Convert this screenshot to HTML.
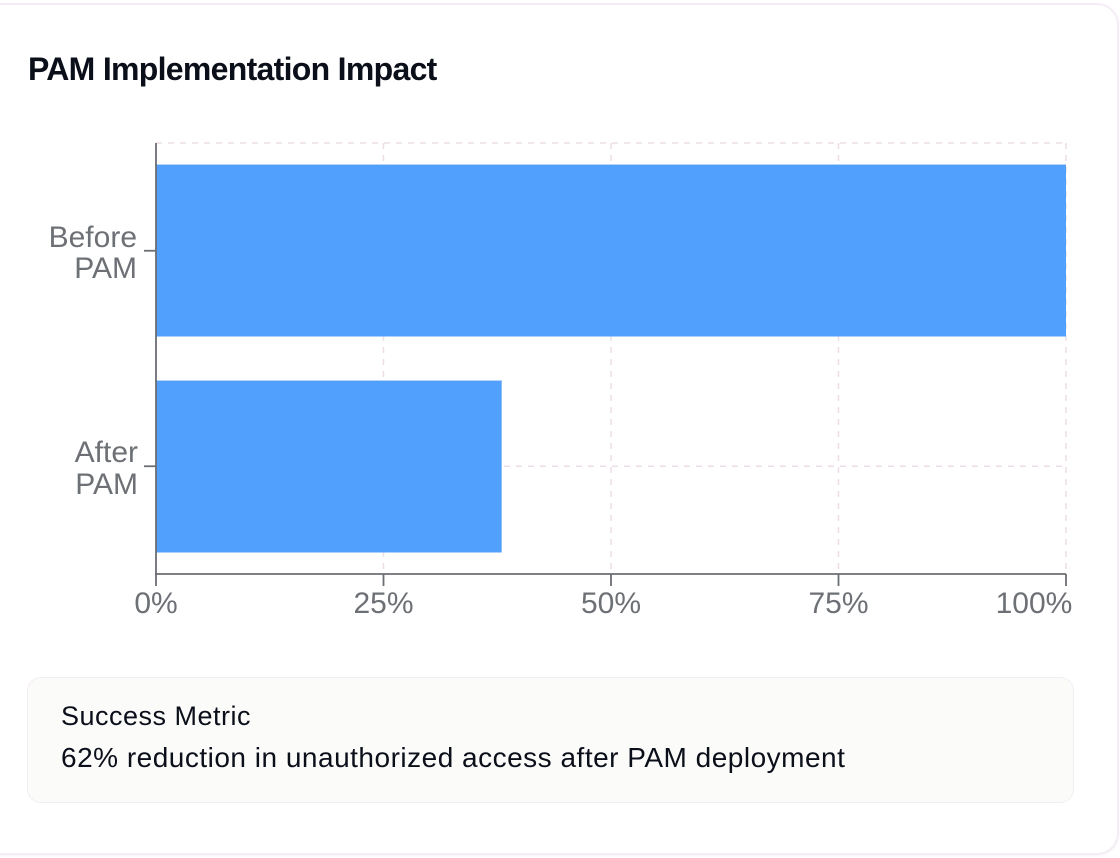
<!DOCTYPE html>
<html>
<head>
<meta charset="utf-8">
<style>
  html, body { margin: 0; padding: 0; background: #ffffff; }
  body { width: 1120px; height: 858px; position: relative; overflow: hidden; font-family: "Liberation Sans", sans-serif; }
  .card {
    position: absolute; left: -24px; top: 3px; width: 1139px; height: 848px;
    background: #ffffff; border: 2px solid #f5edf6; border-radius: 22px;
    box-shadow: 0 1px 2px rgba(200,170,200,0.15);
  }
  .title {
    position: absolute; left: 28px; top: 49px; margin: 0;
    font-size: 32px; font-weight: bold; color: #0b0f1a; letter-spacing: -0.7px;
    line-height: 40px; white-space: nowrap;
  }
  .metric {
    position: absolute; left: 27px; top: 677px; width: 1045px; height: 124px;
    background: #fbfbfa; border: 1.5px solid #f4ecf5; border-radius: 14px;
  }
  .m1 {
    position: absolute; left: 61px; top: 700px; font-size: 27px; color: #0b0f1a;
    letter-spacing: 0.5px; line-height: 32px; white-space: nowrap;
  }
  .m2 {
    position: absolute; left: 61px; top: 742px; font-size: 28px; color: #0b0f1a;
    letter-spacing: 0.5px; line-height: 32px; white-space: nowrap;
  }
  svg { position: absolute; left: 0; top: 0; }
</style>
</head>
<body>
  <div class="card"></div>
  <div class="title">PAM Implementation Impact</div>

  <svg width="1120" height="858" viewBox="0 0 1120 858">
    <g stroke="#eddde9" stroke-width="1.5" stroke-dasharray="6 6" fill="none">
      <line x1="156" y1="143" x2="1066" y2="143"/>
      <line x1="156" y1="250.75" x2="1066" y2="250.75"/>
      <line x1="156" y1="466.25" x2="1066" y2="466.25"/>
      <line x1="383.5" y1="143" x2="383.5" y2="574"/>
      <line x1="611" y1="143" x2="611" y2="574"/>
      <line x1="838.5" y1="143" x2="838.5" y2="574"/>
      <line x1="1066" y1="143" x2="1066" y2="574"/>
    </g>
    <rect x="156" y="164.5" width="910" height="172" fill="#52a0fd"/>
    <line x1="156" y1="164.5" x2="1066" y2="164.5" stroke="#b4d4fc" stroke-width="1"/>
    <rect x="156" y="380.5" width="346" height="172" fill="#52a0fd"/>
    <line x1="156" y1="380.5" x2="502" y2="380.5" stroke="#b4d4fc" stroke-width="1"/>
    <line x1="501.5" y1="380.5" x2="501.5" y2="552.5" stroke="#8fc0fc" stroke-width="1"/>
    <g stroke="#6b6e73" stroke-width="1.8">
      <line x1="156" y1="143" x2="156" y2="575"/>
      <line x1="155" y1="574" x2="1066" y2="574"/>
      <line x1="144" y1="250.75" x2="156" y2="250.75"/>
      <line x1="144" y1="466.25" x2="156" y2="466.25"/>
      <line x1="156" y1="574" x2="156" y2="586"/>
      <line x1="383.5" y1="574" x2="383.5" y2="586"/>
      <line x1="611" y1="574" x2="611" y2="586"/>
      <line x1="838.5" y1="574" x2="838.5" y2="586"/>
      <line x1="1066" y1="574" x2="1066" y2="586"/>
    </g>
    <g font-family="Liberation Sans, sans-serif" font-size="30" fill="#6d7075" text-anchor="end">
      <text x="137" y="247">Before</text>
      <text x="137" y="278">PAM</text>
      <text x="138" y="462">After</text>
      <text x="138" y="494">PAM</text>
    </g>
    <g font-family="Liberation Sans, sans-serif" font-size="30" fill="#6d7075" text-anchor="middle">
      <text x="156" y="613">0%</text>
      <text x="383.5" y="613">25%</text>
      <text x="611" y="613">50%</text>
      <text x="838.5" y="613">75%</text>
      <text x="1034" y="613">100%</text>
    </g>
  </svg>

  <div class="metric"></div>
  <div class="m1">Success Metric</div>
  <div class="m2">62% reduction in unauthorized access after PAM deployment</div>
</body>
</html>
